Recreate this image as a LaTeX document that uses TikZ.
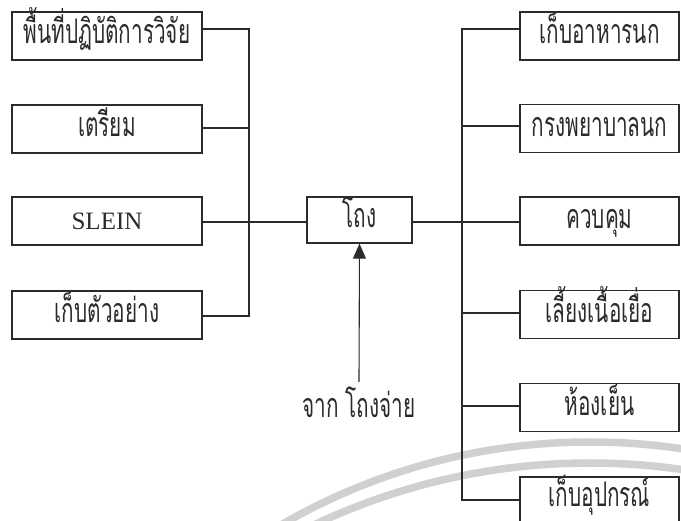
\documentclass[tikz,border=0pt]{standalone}
\usepackage{fontspec}
\setmainfont{Liberation Serif}
\newfontfamily\thai[Script=Thai,FakeStretch=0.61]{Loma}
\usetikzlibrary{arrows.meta,calc}
\definecolor{ink}{HTML}{2B2B2B}
\definecolor{wm}{HTML}{D0D0D0}
\begin{document}
\begin{tikzpicture}[x=1pt,y=-1pt,
  box/.style={draw=ink, line width=1.3pt, fill=white, minimum height=48pt,
    inner sep=0pt, text=ink, text height=16pt, text depth=0pt,
    font=\thai\fontsize{34}{36}\selectfont},
  lbox/.style={box, minimum width=190pt},
  rbox/.style={box, minimum width=159pt},
  wire/.style={draw=ink, line width=1.1pt},
  wmark/.style={draw=wm, line width=7.5pt}]
\useasboundingbox (0,0) rectangle (681,521);
\fill[white] (0,0) rectangle (681,521);
% watermark arcs
\begin{scope}
  \clip (0,0) rectangle (681,521);
  \draw[wmark] (590,1058) circle[radius=616pt];
  \draw[wmark] (590,1107) circle[radius=644pt];
\end{scope}
% left column
\node[lbox] (L1) at (107,36) {พื้นที่ปฏิบัติการวิจัย};
\node[lbox] (L2) at (107,129) {เตรียม};
\node[lbox, font=\fontsize{25}{27}\selectfont, text height=17pt] (L3) at (107,221) {SLEIN};
\node[lbox] (L4) at (107,315) {เก็บตัวอย่าง};
% centre
\node[box, minimum width=105pt, minimum height=46pt] (C) at (359.5,220) {โถง};
\node[text=ink, inner sep=0pt, text height=16pt, text depth=0pt,
  font=\thai\fontsize{34}{36}\selectfont] (src) at (359,410) {จาก โถงจ่าย};
% right column
\node[rbox] (R1) at (599.5,36) {เก็บอาหารนก};
\node[rbox] (R2) at (599.5,128.5) {กรงพยาบาลนก};
\node[rbox] (R3) at (599.5,221) {ควบคุม};
\node[rbox] (R4) at (599.5,314.5) {เลี้ยงเนื้อเยื่อ};
\node[rbox] (R5) at (599.5,407.5) {ห้องเย็น};
\node[rbox, minimum height=50pt, text depth=6pt] (R6) at (599.5,502) {เก็บอุปกรณ์};
% buses
\coordinate (lb1) at (249,29);
\coordinate (lb2) at (249,128);
\coordinate (lb3) at (249,222);
\coordinate (lb4) at (249,316);
\coordinate (rb1) at (462,29);
\coordinate (rb2) at (462,126);
\coordinate (rb3) at (462,222);
\coordinate (rb4) at (462,313);
\coordinate (rb5) at (462,406);
\coordinate (rb6) at (462,500);
\coordinate (tail) at (359,382);
\draw[wire] (L1.east |- lb1) -- (lb1) -- (lb4) -- (L4.east |- lb4);
\draw[wire] (L2.east |- lb2) -- (lb2);
\draw[wire] (L3.east |- lb3) -- (C.west |- lb3);
\draw[wire] (C.east |- rb3) -- (R3.west |- rb3);
\draw[wire] (R1.west |- rb1) -- (rb1) -- (rb6) -- (R6.west |- rb6);
\draw[wire] (rb2) -- (R2.west |- rb2);
\draw[wire] (rb4) -- (R4.west |- rb4);
\draw[wire] (rb5) -- (R5.west |- rb5);
\draw[wire, -{Triangle[length=15pt,width=13pt]}] (tail) -- (C.south);
\end{tikzpicture}
\end{document}
